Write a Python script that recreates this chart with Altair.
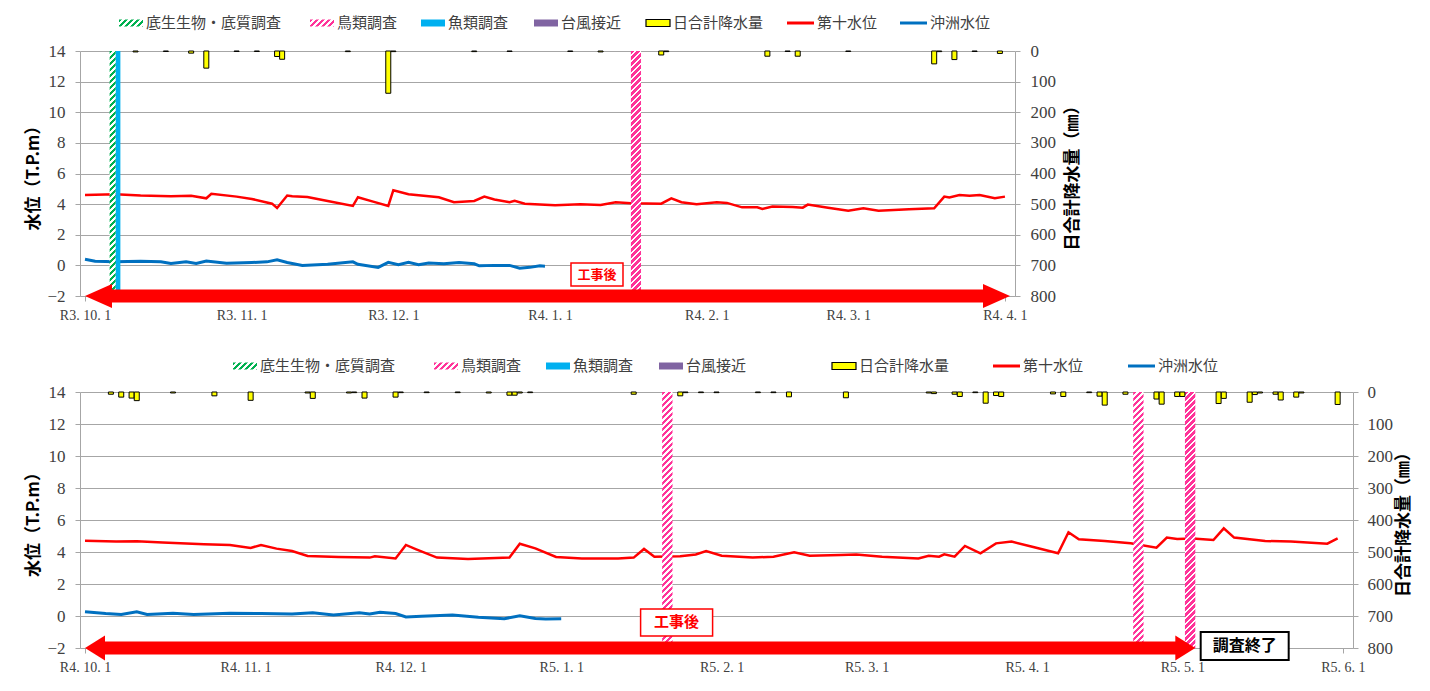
import json
import altair as alt
import pandas as pd

FONT_JP = "Noto Sans CJK JP"
FONT_NUM = "Liberation Serif"
AXIS_GRAY = "#A6A6A6"
LABEL_COLOR = "#404040"
RED = "#FF0000"

# ================= upper panel : R3.10.1 - R4.4.1 =================
TOP_DOMAIN = ["2021-10-01", "2022-04-02"]
TOP_TICKS = ["2021-10-01", "2021-11-01", "2021-12-01", "2022-01-01",
             "2022-02-01", "2022-03-01", "2022-04-01"]
TOP_TICK_LABELS = ["R3.10.1", "R3.11.1", "R3.12.1", "R4.1.1", "R4.2.1", "R4.3.1", "R4.4.1"]

TOP_DAI10_DATES = [
    "2021-10-01", "2021-10-07", "2021-10-12", "2021-10-18", "2021-10-22", "2021-10-25",
    "2021-10-26", "2021-10-31", "2021-11-03", "2021-11-07", "2021-11-08", "2021-11-10",
    "2021-11-11", "2021-11-14", "2021-11-18", "2021-11-23", "2021-11-24", "2021-11-27",
    "2021-11-30", "2021-12-01", "2021-12-04", "2021-12-10", "2021-12-13", "2021-12-17",
    "2021-12-19", "2021-12-21", "2021-12-24", "2021-12-25", "2021-12-27", "2022-01-02",
    "2022-01-07", "2022-01-11", "2022-01-14", "2022-01-17", "2022-01-23", "2022-01-25",
    "2022-01-27", "2022-01-30", "2022-02-03", "2022-02-05", "2022-02-08", "2022-02-11",
    "2022-02-12", "2022-02-14", "2022-02-18", "2022-02-20", "2022-02-21", "2022-02-25",
    "2022-03-01", "2022-03-04", "2022-03-07", "2022-03-13", "2022-03-18", "2022-03-20",
    "2022-03-21", "2022-03-23", "2022-03-25", "2022-03-27", "2022-03-30", "2022-04-01"]
TOP_DAI10_LEVEL = [
    4.60, 4.64, 4.56, 4.51, 4.54, 4.38, 4.67, 4.49, 4.34, 4.03,
    3.75, 4.56, 4.51, 4.47, 4.21, 3.88, 4.45, 4.16, 3.88, 4.91,
    4.64, 4.45, 4.12, 4.21, 4.49, 4.30, 4.12, 4.21, 4.03, 3.92,
    3.99, 3.95, 4.12, 4.05, 4.03, 4.38, 4.12, 3.99, 4.12, 4.08,
    3.79, 3.79, 3.68, 3.84, 3.81, 3.77, 3.97, 3.77, 3.57, 3.73,
    3.57, 3.66, 3.73, 4.49, 4.43, 4.60, 4.54, 4.60, 4.38, 4.49]

TOP_OKINOSU_DATES = [
    "2021-10-01", "2021-10-03", "2021-10-07", "2021-10-12", "2021-10-16", "2021-10-18",
    "2021-10-21", "2021-10-23", "2021-10-25", "2021-10-29", "2021-11-03", "2021-11-06",
    "2021-11-08", "2021-11-10", "2021-11-13", "2021-11-18", "2021-11-23", "2021-11-24",
    "2021-11-28", "2021-11-30", "2021-12-02", "2021-12-04", "2021-12-06", "2021-12-08",
    "2021-12-11", "2021-12-14", "2021-12-17", "2021-12-18", "2021-12-21", "2021-12-24",
    "2021-12-26", "2021-12-28", "2021-12-30", "2021-12-31"]
TOP_OKINOSU_LEVEL = [
    0.40, 0.27, 0.23, 0.27, 0.23, 0.12, 0.23, 0.12, 0.29, 0.14,
    0.19, 0.23, 0.36, 0.19, 0.00, 0.07, 0.23, 0.07, -0.13, 0.20,
    0.05, 0.20, 0.05, 0.16, 0.10, 0.19, 0.10, -0.03, 0.00, 0.00,
    -0.18, -0.13, -0.03, -0.05]

TOP_RAIN_DATES = [
    "2021-10-11", "2021-10-17", "2021-10-22", "2021-10-25", "2021-10-31", "2021-11-04",
    "2021-11-08", "2021-11-09", "2021-11-22", "2021-11-30", "2021-12-01", "2021-12-17",
    "2021-12-24", "2022-01-05", "2022-01-11", "2022-01-23", "2022-01-24", "2022-02-13",
    "2022-02-17", "2022-02-19", "2022-03-01", "2022-03-18", "2022-03-19", "2022-03-22",
    "2022-03-26", "2022-03-31"]
TOP_RAIN_MM = [
    3, 1.5, 7, 56, 1.5, 1.5, 18, 27, 2, 138, 2, 2, 1.5, 1.5, 3, 13, 2, 17,
    1.5, 17, 1.5, 42, 2, 28, 1.5, 8]

TOP_BENTHOS = [("2021-10-05T21:00", "2021-10-07T02:00")]
TOP_FISH = [("2021-10-07T02:00", "2021-10-08T00:00")]
TOP_BIRD = [("2022-01-17T00:00", "2022-01-19T00:00")]
TOP_ARROW = ("2021-10-01", "2022-04-02")
TOP_NOTES = [("2022-01-10T07:00", -0.6, "工事後")]

# ================= lower panel : R4.10.1 - R5.6.1 =================
BOT_DOMAIN = ["2022-10-01", "2023-06-02"]
BOT_TICKS = ["2022-10-01", "2022-11-01", "2022-12-01", "2023-01-01", "2023-02-01",
             "2023-03-01", "2023-04-01", "2023-05-01", "2023-06-01"]
BOT_TICK_LABELS = ["R4.10.1", "R4.11.1", "R4.12.1", "R5.1.1", "R5.2.1",
                   "R5.3.1", "R5.4.1", "R5.5.1", "R5.6.1"]

BOT_DAI10_DATES = [
    "2022-10-01", "2022-10-07", "2022-10-11", "2022-10-16", "2022-10-24", "2022-10-29",
    "2022-11-02", "2022-11-04", "2022-11-07", "2022-11-10", "2022-11-13", "2022-11-19",
    "2022-11-25", "2022-11-26", "2022-11-30", "2022-12-02", "2022-12-04", "2022-12-08",
    "2022-12-14", "2022-12-22", "2022-12-24", "2022-12-27", "2022-12-31", "2023-01-05",
    "2023-01-12", "2023-01-15", "2023-01-17", "2023-01-19", "2023-01-24", "2023-01-27",
    "2023-01-29", "2023-02-01", "2023-02-07", "2023-02-11", "2023-02-15", "2023-02-18",
    "2023-02-24", "2023-02-27", "2023-03-04", "2023-03-11", "2023-03-13", "2023-03-15",
    "2023-03-16", "2023-03-18", "2023-03-20", "2023-03-23", "2023-03-26", "2023-03-29",
    "2023-04-02", "2023-04-07", "2023-04-09", "2023-04-11", "2023-04-16", "2023-04-21",
    "2023-04-26", "2023-04-28", "2023-04-30", "2023-05-03", "2023-05-07", "2023-05-09",
    "2023-05-11", "2023-05-17", "2023-05-22", "2023-05-29", "2023-05-31"]
BOT_DAI10_LEVEL = [
    4.71, 4.65, 4.67, 4.60, 4.48, 4.44, 4.25, 4.44, 4.21, 4.06,
    3.75, 3.69, 3.65, 3.73, 3.60, 4.44, 4.17, 3.65, 3.56, 3.65,
    4.52, 4.23, 3.69, 3.60, 3.60, 3.65, 4.19, 3.71, 3.73, 3.85,
    4.06, 3.77, 3.65, 3.71, 3.98, 3.77, 3.81, 3.85, 3.71, 3.60,
    3.77, 3.71, 3.85, 3.71, 4.38, 3.92, 4.54, 4.65, 4.33, 3.92,
    5.23, 4.79, 4.69, 4.54, 4.27, 4.90, 4.81, 4.85, 4.75, 5.48,
    4.90, 4.69, 4.65, 4.52, 4.85]

BOT_OKINOSU_DATES = [
    "2022-10-01", "2022-10-05", "2022-10-08", "2022-10-11", "2022-10-13", "2022-10-18",
    "2022-10-22", "2022-10-29", "2022-11-04", "2022-11-10", "2022-11-14", "2022-11-18",
    "2022-11-23", "2022-11-25", "2022-11-27", "2022-11-30", "2022-12-02", "2022-12-05",
    "2022-12-11", "2022-12-16", "2022-12-21", "2022-12-24", "2022-12-27", "2022-12-29",
    "2023-01-01"]
BOT_OKINOSU_LEVEL = [
    0.27, 0.15, 0.10, 0.27, 0.10, 0.17, 0.10, 0.17, 0.15, 0.13,
    0.21, 0.06, 0.21, 0.13, 0.23, 0.15, -0.06, -0.02, 0.06, -0.08,
    -0.17, 0.02, -0.15, -0.19, -0.17]

BOT_RAIN_DATES = [
    "2022-10-06", "2022-10-08", "2022-10-10", "2022-10-11", "2022-10-18", "2022-10-26",
    "2022-11-02", "2022-11-13", "2022-11-14", "2022-11-21", "2022-11-22", "2022-11-24",
    "2022-11-30", "2022-12-01", "2022-12-06", "2022-12-12", "2022-12-18", "2022-12-22",
    "2022-12-23", "2022-12-24", "2022-12-26", "2023-01-15", "2023-01-24", "2023-01-25",
    "2023-01-28", "2023-01-31", "2023-02-08", "2023-02-11", "2023-02-14", "2023-02-25",
    "2023-03-13", "2023-03-14", "2023-03-18", "2023-03-19", "2023-03-22", "2023-03-24",
    "2023-03-26", "2023-03-27", "2023-04-06", "2023-04-08", "2023-04-13", "2023-04-15",
    "2023-04-16", "2023-04-20", "2023-04-26", "2023-04-27", "2023-04-30", "2023-05-01",
    "2023-05-08", "2023-05-09", "2023-05-14", "2023-05-15", "2023-05-16", "2023-05-19",
    "2023-05-20", "2023-05-23", "2023-05-24", "2023-05-31"]
BOT_RAIN_MM = [
    7, 16, 19, 27, 3, 12, 26, 3, 20, 3, 2, 19, 16, 2, 2, 2, 3, 10, 10, 3, 2,
    7, 12, 2, 2, 2, 2, 2, 15, 18, 3, 5, 7, 14, 2, 35, 11, 14, 6, 14, 2, 13,
    41, 7, 22, 38, 14, 14, 36, 20, 32, 8, 3, 7, 25, 16, 3, 39]

BOT_BENTHOS = []
BOT_FISH = []
BOT_BIRD = [("2023-01-20T12:00", "2023-01-22T12:00"),
            ("2023-04-21T12:00", "2023-04-23T12:00"),
            ("2023-05-01T12:00", "2023-05-03T12:00")]
BOT_ARROW = ("2022-10-01", "2023-05-03T12:00")
BOT_NOTES = [("2023-01-23T07:00", -0.4, "工事後"), ("2023-05-13T01:00", -1.875, "調査終了")]

# ================= legend =================
LEGEND_LABELS = ["底生生物・底質調査", "鳥類調査", "魚類調査", "台風接近", "日合計降水量", "第十水位", "沖洲水位"]
LEGEND_KINDS = ["hatch", "hatch", "solid", "solid", "bar", "line", "line"]
LEGEND_COLORS = ["#00B050", "#FF3399", "#00B0F0", "#8064A2", "#FFFF00", "#FF0000", "#0070C0"]

# ================= layout (pixels, relative to each plot's top-left) =================
TOP_LAYOUT = dict(width=935, height=245, legend_y=-28,
                  legend_sym_x=[39, 230, 341, 454, 566, 707, 820],
                  bar_w=5, head_len=27, head_h=24, r_label_pad=10, r_title_pad=9,
                  notes=[dict(w=52, h=23, color=RED, size=13, sw=1.5)])
BOT_LAYOUT = dict(width=1273, height=256, legend_y=-26,
                  legend_sym_x=[153, 354, 466, 579, 752, 913, 1048],
                  bar_w=5, head_len=20, head_h=25, r_label_pad=9, r_title_pad=3,
                  notes=[dict(w=72, h=27, color=RED, size=15, sw=1.5),
                         dict(w=88, h=28, color="#000000", size=16, sw=2)])


def ms(s):
    return int(pd.Timestamp(s).tz_localize("UTC").value // 1_000_000)


def hatch(color, w, h, period=6.0, duty=0.55):
    k = (w + h) / (w * w + h * h)
    n = (w + h) / period
    stops = []
    i = 0
    while i < n:
        t0 = min(i / n, 1.0)
        t1 = min((i + duty) / n, 1.0)
        t2 = min((i + 1) / n, 1.0)
        stops += [alt.GradientStop(offset=t0, color=color),
                  alt.GradientStop(offset=t1, color=color),
                  alt.GradientStop(offset=t1, color="#FFFFFF"),
                  alt.GradientStop(offset=t2, color="#FFFFFF")]
        i += 1
    return alt.LinearGradient(gradient="linear", stops=stops, x1=0, y1=0, x2=w * k, y2=h * k)


def panel(domain, ticks, tick_labels, dai10, okinosu, rain, benthos, fish, bird, arrow, notes, L):
    W, H = L["width"], L["height"]
    day_ms = 86400000
    ppd = W / ((ms(domain[1]) - ms(domain[0])) / day_ms)
    tick_ms = [ms(t) for t in ticks]
    labels = [t.replace(".", ". ") for t in tick_labels]
    t0 = pd.Timestamp(ticks[0])
    label_expr = (f"{json.dumps(labels)}[(utcyear(datum.value) - {t0.year}) * 12 + "
                  f"utcmonth(datum.value) - {t0.month - 1}]")
    xscale = alt.Scale(type="utc", domain=[ms(domain[0]), ms(domain[1])], nice=False)
    xaxis = alt.Axis(values=tick_ms, labelExpr=label_expr, title=None, grid=False,
                     domainColor=AXIS_GRAY, tickColor=AXIS_GRAY, tickSize=5,
                     labelFont=FONT_NUM, labelFontSize=14, labelColor=LABEL_COLOR,
                     labelPadding=7, labelFlush=False, labelOverlap=False)
    yscale = alt.Scale(domain=[-2, 14], nice=False, zero=False)
    yaxis = alt.Axis(values=list(range(-2, 15, 2)), title="水位（T.P.m）", grid=True,
                     gridColor=AXIS_GRAY, domainColor=AXIS_GRAY, tickColor=AXIS_GRAY,
                     tickSize=5, labelFont=FONT_NUM, labelFontSize=17, labelColor=LABEL_COLOR,
                     labelPadding=10, labelFlush=False, labelOverlap=False,
                     titleFont=FONT_JP, titleFontSize=17, titleFontWeight="bold",
                     titleColor="#000000", titlePadding=4)

    # every layer shares the same axis definitions so the merged axes stay enabled
    def X(f):
        return alt.X(f"{f}:T", scale=xscale, axis=xaxis)

    def Y(f):
        return alt.Y(f"{f}:Q", scale=yscale, axis=yaxis)

    layers = []
    red_df = pd.DataFrame({"d": [ms(d) for d in dai10[0]], "v": dai10[1]})
    blue_df = pd.DataFrame({"d": [ms(d) for d in okinosu[0]], "v": okinosu[1]})
    layers.append(alt.Chart(red_df).mark_line(color=RED, strokeWidth=2.5)
                  .encode(x=X("d"), y=Y("v")))
    layers.append(alt.Chart(blue_df).mark_line(color="#0070C0", strokeWidth=3)
                  .encode(x=X("d"), y=Y("v")))

    def band_layer(spans, fill):
        df = pd.DataFrame({"s": [ms(a) for a, b in spans], "e": [ms(b) for a, b in spans],
                           "top": [14] * len(spans), "bot": [-2] * len(spans)})
        return (alt.Chart(df).mark_rect(fill=fill, strokeWidth=0)
                .encode(x=X("s"), x2=alt.X2("e:T"), y=Y("top"), y2=alt.Y2("bot:Q")))

    for spans, color in ((benthos, LEGEND_COLORS[0]), (bird, LEGEND_COLORS[1])):
        if spans:
            wpx = (ms(spans[0][1]) - ms(spans[0][0])) / day_ms * ppd
            layers.append(band_layer(spans, hatch(color, wpx, H)))
    if fish:
        layers.append(band_layer(fish, LEGEND_COLORS[2]))

    # red double-headed arrow along the bottom
    hl, hh = L["head_len"], L["head_h"]
    inset = hl * 0.6 / ppd * day_ms
    body = pd.DataFrame({"s": [ms(arrow[0]) + inset], "e": [ms(arrow[1]) - inset], "v": [-2]})
    layers.append(alt.Chart(body).mark_rule(color=RED, strokeWidth=13, strokeCap="butt")
                  .encode(x=X("s"), x2=alt.X2("e:T"), y=Y("v")))
    r = (hh / 2) / (hl / 2)
    for when, path in ((arrow[0], f"M0,0L2,{-r:.3f}L2,{r:.3f}Z"),
                       (arrow[1], f"M0,0L-2,{-r:.3f}L-2,{r:.3f}Z")):
        hdf = pd.DataFrame({"d": [ms(when)], "v": [-2]})
        layers.append(alt.Chart(hdf).mark_point(shape=path, size=hl * hl, filled=True,
                                                fill=RED, strokeWidth=0, opacity=1)
                      .encode(x=X("d"), y=Y("v")))

    # annotation boxes
    for (when, val, txt), st in zip(notes, L["notes"]):
        ndf = pd.DataFrame({"d": [ms(when)], "v": [val], "t": [txt]})
        rr = st["h"] / st["w"]
        layers.append(alt.Chart(ndf).mark_point(shape=f"M-1,{-rr:.3f}H1V{rr:.3f}H-1Z",
                                                size=st["w"] ** 2, filled=True, fill="#FFFFFF",
                                                stroke=st["color"], strokeWidth=st["sw"], opacity=1)
                      .encode(x=X("d"), y=Y("v")))
        layers.append(alt.Chart(ndf).mark_text(font=FONT_JP, fontSize=st["size"], fontWeight="bold",
                                               color=st["color"], align="center", baseline="middle")
                      .encode(x=X("d"), y=Y("v"), text="t:N"))

    # legend (drawn above the plot)
    ly = L["legend_y"]
    pos = []
    for x0, kind in zip(L["legend_sym_x"], LEGEND_KINDS):
        sw = 27 if kind == "line" else 24
        pos.append((x0, x0 + sw, x0 + sw + 3))
    px = lambda f: alt.X(f"{f}:Q", scale=None)
    py = lambda f: alt.Y(f"{f}:Q", scale=None)
    text_df = pd.DataFrame({"x": [p[2] for p in pos], "y": [ly] * len(pos), "t": LEGEND_LABELS})
    for (x0, x1, _), kind, color in zip(pos, LEGEND_KINDS, LEGEND_COLORS):
        sdf = pd.DataFrame({"x": [x0], "x2": [x1], "y": [ly - 3.5], "y2": [ly + 3.5], "ym": [ly]})
        if kind == "hatch":
            layers.append(alt.Chart(sdf).mark_rect(fill=hatch(color, x1 - x0, 7), strokeWidth=0)
                          .encode(x=px("x"), x2="x2:Q", y=py("y"), y2="y2:Q"))
        elif kind == "solid":
            layers.append(alt.Chart(sdf).mark_rect(fill=color, strokeWidth=0)
                          .encode(x=px("x"), x2="x2:Q", y=py("y"), y2="y2:Q"))
        elif kind == "bar":
            layers.append(alt.Chart(sdf).mark_rect(fill=color, stroke="#000000", strokeWidth=1.2)
                          .encode(x=px("x"), x2="x2:Q", y=py("y"), y2="y2:Q"))
        else:
            layers.append(alt.Chart(sdf).mark_rule(color=color, strokeWidth=3)
                          .encode(x=px("x"), x2="x2:Q", y=py("ym")))
    layers.append(alt.Chart(text_df).mark_text(font=FONT_JP, fontSize=15, color=LABEL_COLOR,
                                               align="left", baseline="middle")
                  .encode(x=px("x"), y=py("y"), text="t:N"))

    left = alt.layer(*layers)

    rain_df = pd.DataFrame({"d": [ms(d) for d in rain[0]], "mm": rain[1]})
    raxis = alt.Axis(orient="right", values=list(range(0, 801, 100)), title="日合計降水量（㎜）",
                     grid=False, domainColor=AXIS_GRAY, tickColor=AXIS_GRAY, tickSize=5,
                     labelFont=FONT_NUM, labelFontSize=17, labelColor=LABEL_COLOR,
                     labelPadding=L["r_label_pad"], labelFlush=False, labelOverlap=False,
                     titleFont=FONT_JP, titleFontSize=17, titleFontWeight="bold",
                     titleColor="#000000", titleAngle=270, titleBaseline="top",
                     titlePadding=L["r_title_pad"])
    bars = (alt.Chart(rain_df).mark_bar(width=L["bar_w"], fill="#FFFF00", stroke="#000000", strokeWidth=1)
            .encode(x=X("d"), y=alt.Y("mm:Q", scale=alt.Scale(domain=[0, 800], reverse=True, nice=False),
                                      axis=raxis)))

    return alt.layer(left, bars).resolve_scale(y="independent").properties(width=W, height=H)


top = panel(TOP_DOMAIN, TOP_TICKS, TOP_TICK_LABELS, (TOP_DAI10_DATES, TOP_DAI10_LEVEL),
            (TOP_OKINOSU_DATES, TOP_OKINOSU_LEVEL), (TOP_RAIN_DATES, TOP_RAIN_MM),
            TOP_BENTHOS, TOP_FISH, TOP_BIRD, TOP_ARROW, TOP_NOTES, TOP_LAYOUT)
bottom = panel(BOT_DOMAIN, BOT_TICKS, BOT_TICK_LABELS, (BOT_DAI10_DATES, BOT_DAI10_LEVEL),
               (BOT_OKINOSU_DATES, BOT_OKINOSU_LEVEL), (BOT_RAIN_DATES, BOT_RAIN_MM),
               BOT_BENTHOS, BOT_FISH, BOT_BIRD, BOT_ARROW, BOT_NOTES, BOT_LAYOUT)

chart = (alt.vconcat(top, bottom, spacing=35)
         .properties(padding={"left": 16, "top": 7, "right": 7, "bottom": 3}, background="#FFFFFF")
         .configure_view(stroke="transparent"))

chart.save("out.html", embed_options={"renderer": "svg", "actions": False})
